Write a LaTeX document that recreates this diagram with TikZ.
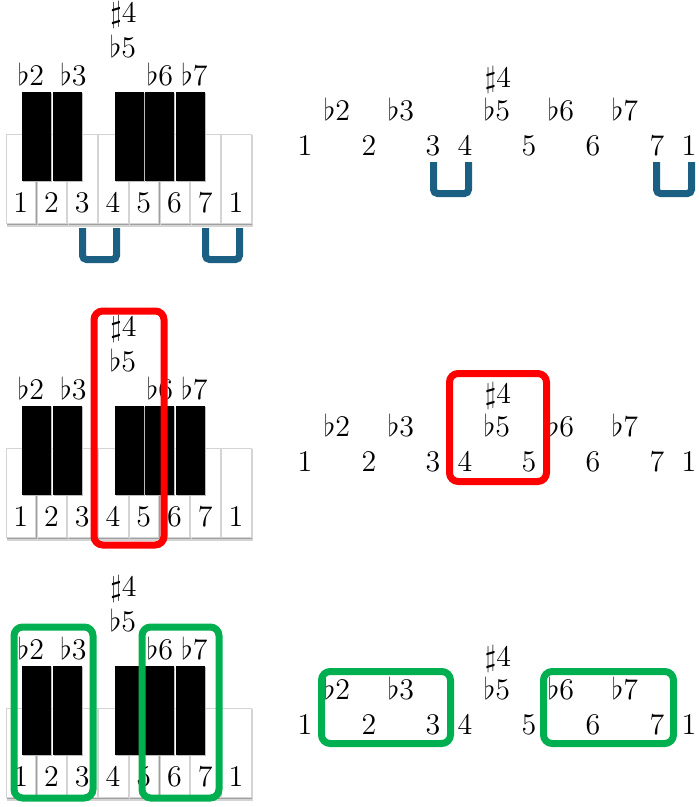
\documentclass[tikz,border=0pt]{standalone}
\usetikzlibrary{positioning,calc}
\definecolor{keyshade}{HTML}{A0A0A0}
\definecolor{keyedge}{HTML}{D4D4D4}
\definecolor{tt}{HTML}{1B5F82}
\definecolor{hl}{HTML}{FF0000}
\definecolor{gn}{HTML}{00B050}
\tikzset{
  wkey/.style={fill=white,draw=keyedge,line width=0.2pt},
  wshade/.style={fill=keyshade,draw=none},
  wshadeo/.style={fill=keyshade!45,draw=none},
  bkey/.style={fill=black,draw=none},
  bshade/.style={fill=keyshade!70,draw=none},
  deg/.style={font=\fontsize{12}{14}\selectfont,inner sep=0pt,anchor=base},
  tritone/.style={draw=tt,line width=2.8pt,rounded corners=1.6pt},
  pick/.style={draw=hl,line width=2.8pt,rounded corners=3.5pt},
  pickg/.style={pick,draw=gn}
}

\begin{document}
\begin{tikzpicture}[x=0.4pt,y=-0.4pt]
\useasboundingbox (0,0) rectangle (699,807);
% ===================== keyboards, left =====================
\foreach \oy/\p in {0/a,314/b,574/c}{
  % white keys
  \foreach \i/\d in {0/1,1/2,2/3,3/4,4/5,5/6,6/7,7/1}{
    \fill[wshadeo] (6+30.75*\i+1,134+\oy+1) rectangle ++(31,91.5);
    \fill[wshade] (6+30.75*\i+1,134+\oy+1) rectangle ++(30,90);
    \draw[wkey] (6+30.75*\i,134+\oy) rectangle ++(29.5,89);
    \node[deg] (w\p\i) at (20.75+30.75*\i,212.7+\oy) {\d};
  }
  % black keys
  \foreach \i in {1,2,4,5,6}{
    \fill[bshade] (6+30.75*\i-13.5,92+\oy+1.2) rectangle ++(29,89);
    \fill[bkey] (6+30.75*\i-14.5,92+\oy) rectangle ++(29,89);
  }
  \node[deg] (fa\p) at (31,85+\oy) {$\flat$2};
  \node[deg] (fb\p) at (73.5,85+\oy) {$\flat$3};
  \node[deg] (fc\p) at (123,57.5+\oy) {$\flat$5};
  \node[deg] (sh\p) at (123.5,22.7+\oy) {$\sharp$4};
  \node[deg] (fd\p) at (160,85+\oy) {$\flat$6};
  \node[deg] (fe\p) at (194.5,85+\oy) {$\flat$7};
}
% ===================== scales, right =====================
\foreach \oy/\p in {0/a,316/b,579/c}{
  \foreach \k/\d in {0/1,2/2,4/3,5/4,7/5,9/6,11/7,12/1}{
    \node[deg] (r\p\k) at (305+32*\k,155.7+\oy) {\d};
  }
  \foreach \k/\d in {1/2,3/3,6/5,8/6,10/7}{
    \node[deg] (q\p\k) at (305+32*\k,120+\oy) {$\flat$\d};
  }
  \node[deg] (t\p) at (498,87.5+\oy) {$\sharp$4};
}
% tritones 3-4 and 7-1
\draw[tritone] (82.5,228) -- (82.5,259.5) -- (116.5,259.5) -- (116.5,228);
\draw[tritone] (205.5,228) -- (205.5,259.5) -- (239.5,259.5) -- (239.5,228);
\draw[tritone] (433.5,162) -- (433.5,193.5) -- (468.5,193.5) -- (468.5,162);
\draw[tritone] (656.5,162) -- (656.5,193.5) -- (691.5,193.5) -- (691.5,162);
% the avoided tritone
\draw[pick] (94,311) rectangle (164,545);
\draw[pick] (449.5,373.5) rectangle (546.5,481.5);
% the two half-step pairs
\draw[pickg] (14,627) rectangle (93,798);
\draw[pickg] (142,627) rectangle (219,798);
\draw[pickg] (321.5,671.5) rectangle (450.5,743.5);
\draw[pickg] (543.5,671.5) rectangle (673.5,743.5);
\end{tikzpicture}
\end{document}
